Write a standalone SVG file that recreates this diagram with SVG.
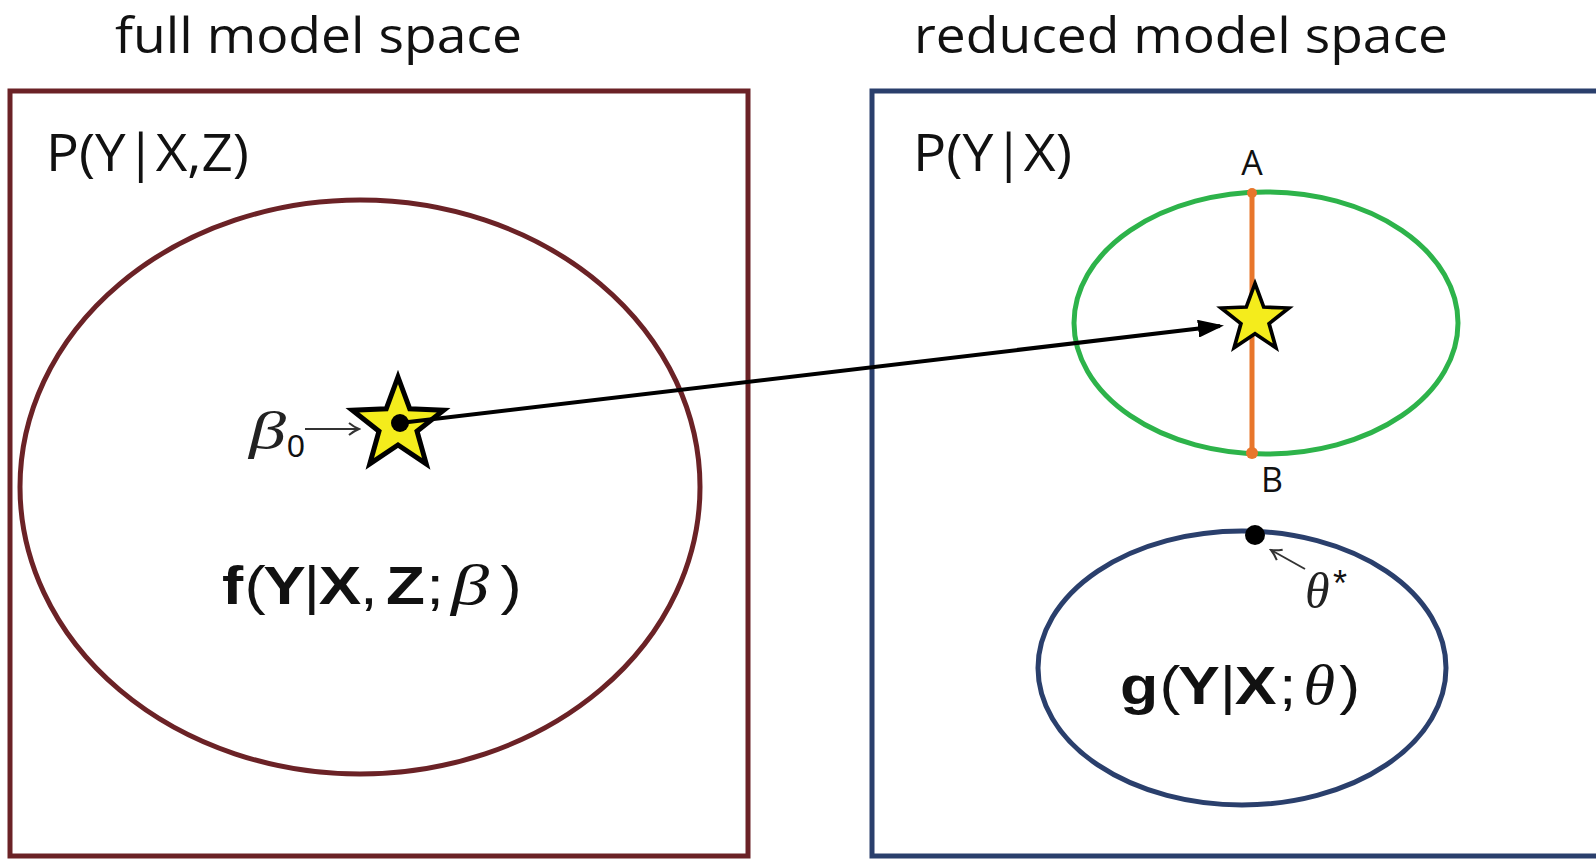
<svg xmlns="http://www.w3.org/2000/svg" width="1596" height="859" viewBox="0 0 1596 859">
<style>
.title{font-family:"Open Sans","Liberation Sans",sans-serif;font-size:50px;fill:#111}
.plabel{font-family:"Open Sans","Liberation Sans",sans-serif;font-size:52px;fill:#111}
.pt{font-family:"Open Sans","Liberation Sans",sans-serif;font-size:34px;fill:#111}
.math{font-family:"Liberation Sans",Arial,sans-serif;fill:#111}
.b{font-weight:bold}
.it{font-family:"Liberation Serif","Times New Roman",serif;font-style:italic}
.star{fill:#F4EC1C;stroke:#000;stroke-width:5;stroke-linejoin:miter}
.thin{stroke:#333;stroke-width:2;fill:none}
</style>
<defs>
<polygon id="starShape" points="0,-48 11.76,-16.18 45.65,-14.83 19.02,6.18 28.21,38.83 0,20 -28.21,38.83 -19.02,6.18 -45.65,-14.83 -11.76,-16.18"/>
<marker id="head" markerUnits="userSpaceOnUse" viewBox="0 0 26 18" markerWidth="26" markerHeight="18" refX="22" refY="9" orient="auto">
<path d="M0,0 L26,9 L0,18 z" fill="#000"/>
</marker>
<marker id="open" markerUnits="userSpaceOnUse" viewBox="0 0 14 14" markerWidth="14" markerHeight="14" refX="12" refY="7" orient="auto">
<path d="M2,1 Q7,5 12,7 Q7,9 2,13" fill="none" stroke="#333" stroke-width="2"/>
</marker>
</defs>

<g id="full-space">
<text class="title" x="115" y="53" textLength="407" lengthAdjust="spacingAndGlyphs">full model space</text>
<rect x="10" y="91" width="738" height="765" fill="none" stroke="#6B2226" stroke-width="5"/>
<text class="plabel" x="46" y="171" textLength="203" lengthAdjust="spacingAndGlyphs">P(Y|X,Z)</text>
</g>

<g id="full-model">
<ellipse cx="360" cy="487" rx="340" ry="287" fill="none" stroke="#6B2226" stroke-width="5"/>
<text class="math" font-size="54" transform="translate(222,604) scale(1.18,1)"><tspan class="b" x="0">f</tspan><tspan x="19">(</tspan><tspan class="b" x="35">Y</tspan><tspan x="69">|</tspan><tspan class="b" x="82">X</tspan><tspan x="117">,</tspan><tspan class="b" x="139">Z</tspan><tspan x="173">;</tspan><tspan x="236">)</tspan></text>
<text class="it" x="451" y="604" font-size="58" fill="#111" textLength="38" lengthAdjust="spacingAndGlyphs">β</text>
</g>

<g id="beta0">
<use href="#starShape" class="star" transform="translate(398,425)"/>
<circle cx="400" cy="423" r="9" fill="#000"/>
<text class="it" x="249" y="448" font-size="52" fill="#222" textLength="37" lengthAdjust="spacingAndGlyphs">β</text>
<text class="math" x="287" y="457" font-size="32" fill="#222">0</text>
</g>

<g id="reduced-space">
<text class="title" x="914" y="53" textLength="534" lengthAdjust="spacingAndGlyphs">reduced model space</text>
<rect x="872" y="91" width="800" height="765" fill="none" stroke="#2A3F6C" stroke-width="5"/>
<text class="plabel" x="913" y="171" textLength="159" lengthAdjust="spacingAndGlyphs">P(Y|X)</text>
</g>

<g id="interval">
<ellipse cx="1266" cy="323" rx="192" ry="131" fill="none" stroke="#2DB34A" stroke-width="5"/>
<line x1="1252" y1="193" x2="1252" y2="453" stroke="#E8762B" stroke-width="5"/>
<circle cx="1252" cy="193" r="5" fill="#E8762B"/>
<circle cx="1252" cy="453" r="6" fill="#E8762B"/>
<text class="pt" x="1252" y="175" text-anchor="middle">A</text>
<text class="pt" x="1272" y="492" text-anchor="middle">B</text>
<use href="#starShape" class="star" transform="translate(1255,319) scale(0.74)"/>
</g>

<g id="reduced-model">
<ellipse cx="1242" cy="668" rx="204" ry="137" fill="none" stroke="#2A3F6C" stroke-width="5"/>
<circle cx="1255" cy="535" r="10" fill="#000"/>
<text class="math" font-size="54" transform="translate(1120,704) scale(1.16,1)"><tspan class="b" x="0">g</tspan><tspan x="34">(</tspan><tspan class="b" x="50">Y</tspan><tspan x="86">|</tspan><tspan class="b" x="99">X</tspan><tspan x="137">;</tspan><tspan class="it" x="158" font-size="56">θ</tspan><tspan x="189">)</tspan></text>
<text class="it" x="1305" y="608" font-size="50" fill="#222">θ</text>
<text class="math" x="1333" y="596" font-size="36" fill="#222">*</text>
</g>

<g id="connectors">
<line x1="400" y1="423" x2="1220" y2="326" stroke="#000" stroke-width="4" marker-end="url(#head)"/>
<line class="thin" x1="305" y1="429" x2="359" y2="429" marker-end="url(#open)"/>
<line class="thin" x1="1305" y1="569" x2="1271" y2="550" marker-end="url(#open)"/>
</g>
</svg>
